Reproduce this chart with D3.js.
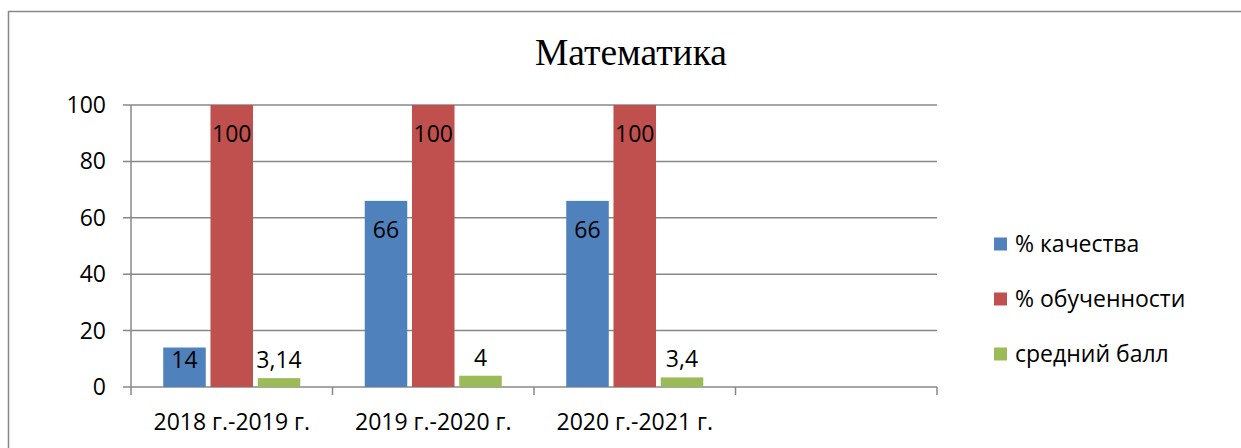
<!DOCTYPE html>
<html>
<head>
<meta charset="utf-8">
<script src="https://cdn.jsdelivr.net/npm/d3@7"></script>
<style>
  body { margin: 0; background: #fff; }
  svg { display: block; font-family: "Open Sans", sans-serif; }
</style>
</head>
<body>
<svg id="chart" width="1241" height="448"></svg>
<script>
const categories = ['2018 г.-2019 г.', '2019 г.-2020 г.', '2020 г.-2021 г.', ''];
const seriesNames = ['% качества', '% обученности', 'средний балл'];
const quality = [14, 66, 66];
const learning = [100, 100, 100];
const avgScore = [3.14, 4, 3.4];
const valueLabels = [['14', '66', '66'], ['100', '100', '100'], ['3,14', '4', '3,4']];
const yTicks = [0, 20, 40, 60, 80, 100];

const colors = ['#4F81BD', '#C0504D', '#9BBB59'];
const series = [quality, learning, avgScore];
const fs = 23;

const svg = d3.select('#chart');

// Outer chart frame (runs off the right and bottom edges)
svg.append('rect')
  .attr('x', 8.5).attr('y', 11.5)
  .attr('width', 1300).attr('height', 500)
  .attr('fill', 'none')
  .attr('stroke', '#888')
  .attr('stroke-width', 1.5);

svg.append('text')
  .attr('x', 631).attr('y', 65)
  .attr('text-anchor', 'middle')
  .attr('font-family', '"Liberation Serif", "Times New Roman", serif')
  .attr('font-size', 37.5)
  .text('Математика');

const plot = { left: 131, right: 937, top: 105, bottom: 387 };

const x0 = d3.scaleBand()
  .domain(categories.map((d, i) => i))
  .range([plot.left, plot.right]);

const bw = x0.bandwidth();
const x1 = d3.scaleBand()
  .domain(d3.range(seriesNames.length))
  .range([bw * 0.16, bw * 0.84])
  .paddingInner(0.1);

const y = d3.scaleLinear().domain([0, 100]).range([plot.bottom, plot.top]);

// Gridlines
svg.append('g')
  .selectAll('line')
  .data(yTicks)
  .join('line')
  .attr('x1', plot.left - 8).attr('x2', plot.right)
  .attr('y1', d => y(d)).attr('y2', d => y(d))
  .attr('stroke', '#888')
  .attr('stroke-width', 1.5);

// Y axis line
svg.append('line')
  .attr('x1', plot.left).attr('x2', plot.left)
  .attr('y1', plot.top).attr('y2', plot.bottom)
  .attr('stroke', '#888').attr('stroke-width', 1.5);

// Category ticks
svg.append('g')
  .selectAll('line')
  .data(d3.range(categories.length + 1))
  .join('line')
  .attr('x1', i => plot.left + i * bw).attr('x2', i => plot.left + i * bw)
  .attr('y1', plot.bottom).attr('y2', plot.bottom + 8)
  .attr('stroke', '#888').attr('stroke-width', 1.5);

// Y tick labels
svg.append('g')
  .selectAll('text')
  .data(yTicks)
  .join('text')
  .attr('x', 106)
  .attr('y', d => y(d) + 8)
  .attr('text-anchor', 'end')
  .attr('font-size', fs)
  .text(d => d);

// X labels
svg.append('g')
  .selectAll('text')
  .data(categories)
  .join('text')
  .attr('x', (d, i) => x0(i) + bw / 2)
  .attr('y', 430)
  .attr('text-anchor', 'middle')
  .attr('font-size', fs)
  .text(d => d);

// Bars and value labels
series.forEach((vals, s) => {
  const g = svg.append('g');
  g.selectAll('rect')
    .data(vals)
    .join('rect')
    .attr('x', (d, i) => x0(i) + x1(s))
    .attr('y', d => y(d))
    .attr('width', x1.bandwidth())
    .attr('height', d => y(0) - y(d))
    .attr('fill', colors[s]);

  g.selectAll('text')
    .data(vals)
    .join('text')
    .attr('x', (d, i) => x0(i) + x1(s) + x1.bandwidth() / 2)
    .attr('y', d => s === 2 ? y(d) - 10 : Math.min(y(d) + 37, y(0) - 19))
    .attr('text-anchor', 'middle')
    .attr('font-size', fs)
    .text((d, i) => valueLabels[s][i]);
});

// Legend
const legend = svg.append('g')
  .selectAll('g')
  .data(seriesNames)
  .join('g')
  .attr('transform', (d, i) => `translate(994, ${244 + i * 55})`);

legend.append('rect')
  .attr('x', 0).attr('y', -6.5)
  .attr('width', 13).attr('height', 13)
  .attr('fill', (d, i) => colors[i]);

legend.append('text')
  .attr('x', 21).attr('y', 7.5)
  .attr('font-size', fs)
  .text(d => d);
</script>
</body>
</html>
